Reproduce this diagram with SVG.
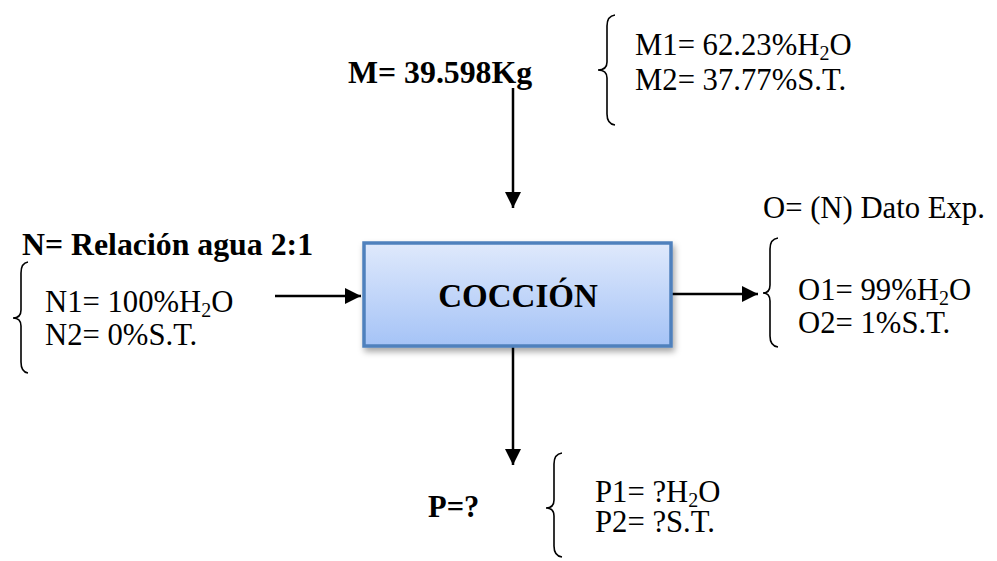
<svg xmlns="http://www.w3.org/2000/svg" width="997" height="561" viewBox="0 0 997 561" font-family="'Liberation Serif', 'Times New Roman', serif">
<defs>
<style>
text{font-family:'Liberation Serif','Times New Roman',serif;font-size:30.7px;fill:#000}
.b{font-weight:bold;font-size:31.8px}
.sub{font-size:20px}
.conn{stroke:#000;stroke-width:2.5;fill:none}
.brace{stroke:#000;stroke-width:1.6;fill:none}
</style>
<linearGradient id="g" x1="0" y1="0" x2="0" y2="1">
<stop offset="0" stop-color="#dfe9fc"/>
<stop offset="1" stop-color="#a5c3f6"/>
</linearGradient>
<filter id="sh" x="-10%" y="-10%" width="130%" height="140%">
<feDropShadow dx="2" dy="4" stdDeviation="3" flood-color="#000" flood-opacity="0.35"/>
</filter>
<marker id="ah" markerWidth="16" markerHeight="16" viewBox="0 0 16 16" refX="16" refY="8" orient="auto" markerUnits="userSpaceOnUse">
<path d="M0,0 L16,8 L0,16 Z" fill="#000"/>
</marker>
</defs>
<rect width="997" height="561" fill="#fff"/>

<g id="conectores">
<line class="conn" x1="513" y1="88" x2="513" y2="208" marker-end="url(#ah)"/>
<line class="conn" x1="275" y1="296" x2="361" y2="296" marker-end="url(#ah)"/>
<line class="conn" x1="672" y1="294" x2="758" y2="294" marker-end="url(#ah)"/>
<line class="conn" x1="513" y1="347" x2="513" y2="465" marker-end="url(#ah)"/>
</g>

<g id="coccion">
<rect x="364" y="243" width="307" height="103" fill="url(#g)" stroke="#4f81bd" stroke-width="3.5" filter="url(#sh)"/>
<text class="b" x="518" y="307" text-anchor="middle" style="font-size:33px">COCCIÓN</text>
</g>

<g id="M">
<text class="b" x="348" y="83">M= 39.598Kg</text>
<path class="brace" d="M615,15 Q607,16 607,26 L607,62 Q607,70 598,70 Q607,70 607,78 L607,114 Q607,124 615,125"/>
<text x="635" y="55">M1= 62.23%H<tspan class="sub" dy="5">2</tspan><tspan dy="-5">O</tspan></text>
<text x="635" y="90">M2= 37.77%S.T.</text>
</g>

<g id="N">
<text class="b" x="22" y="255">N= Relación agua 2:1</text>
<path class="brace" d="M28,262 Q21,263 21,273 L21,310 Q21,318 13,318 Q21,318 21,326 L21,362 Q21,372 28,373"/>
<text x="45" y="312">N1= 100%H<tspan class="sub" dy="5">2</tspan><tspan dy="-5">O</tspan></text>
<text x="45" y="345">N2= 0%S.T.</text>
</g>

<g id="O">
<text x="763" y="218">O= (N) Dato Exp.</text>
<path class="brace" d="M778,238 Q770,239 770,249 L770,285 Q770,293 763,293 Q770,293 770,301 L770,336 Q770,346 778,347"/>
<text x="798" y="300">O1= 99%H<tspan class="sub" dy="5">2</tspan><tspan dy="-5">O</tspan></text>
<text x="798" y="333">O2= 1%S.T.</text>
</g>

<g id="P">
<text class="b" x="428" y="517" style="font-size:30.5px">P=?</text>
<path class="brace" d="M562,453 Q554,454 554,464 L554,500 Q554,508 546,508 Q554,508 554,516 L554,546 Q554,556 562,557"/>
<text x="595" y="502">P1= ?H<tspan class="sub" dy="5">2</tspan><tspan dy="-5">O</tspan></text>
<text x="595" y="532">P2= ?S.T.</text>
</g>
</svg>
